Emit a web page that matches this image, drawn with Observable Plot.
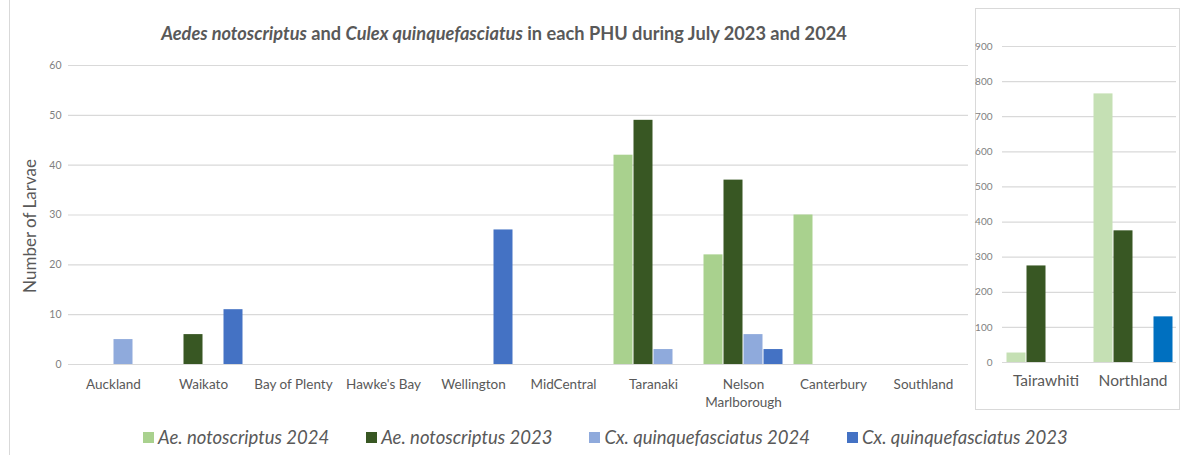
<!DOCTYPE html>
<html>
<head>
<meta charset="utf-8">
<script src="https://cdn.jsdelivr.net/npm/d3@7"></script>
<script src="https://cdn.jsdelivr.net/npm/@observablehq/plot@0.6"></script>
<style>
  html, body { margin: 0; padding: 0; background: #fff; }
  #root { position: relative; width: 1191px; height: 455px; overflow: hidden; font-family: Lato, "Open Sans", sans-serif; }
  #frame { position: absolute; left: 9px; top: 0; width: 0; height: 455px; border-left: 1px solid #d9d9d9; }
  #title { position: absolute; left: 504px; top: 22px; transform: translateX(-50%); white-space: nowrap;
           font-size: 18.2px; font-weight: bold; color: #595959; }
  #ylabel { position: absolute; left: 29px; top: 226px; transform: translate(-50%, -50%) rotate(-90deg);
            white-space: nowrap; font-size: 17px; color: #595959; }
  #left { position: absolute; left: 0; top: 0; }
  #rightbox { position: absolute; left: 975px; top: 8px; width: 205px; height: 402px; box-sizing: border-box;
              border: 1px solid #d9d9d9; }
  #right { position: absolute; left: 0; top: 0; }
  #legend { position: absolute; left: 143px; top: 425px; width: 1040px; }
  #legend .lg-swatches { font-family: Lato, sans-serif; font-size: 18.5px; font-style: italic; color: #595959; min-height: 24px; margin: 0; }
  #legend .lg-swatch { margin-right: 37px !important; }
  #legend .lg-swatch svg { margin-right: 4px !important; }
</style>
</head>
<body>
<div id="root">
  <div id="frame"></div>
  <div id="left"></div>
  <div id="title"><i>Aedes notoscriptus</i> and <i>Culex quinquefasciatus</i> in each PHU during July 2023 and 2024</div>
  <div id="ylabel">Number of Larvae</div>
  <div id="rightbox"><div id="right"></div></div>
  <div id="legend"></div>
</div>
<script>
// ---- data ----
const regions = ["Auckland", "Waikato", "Bay of Plenty", "Hawke's Bay", "Wellington", "MidCentral", "Taranaki", "Nelson Marlborough", "Canterbury", "Southland"];
const series = ["Ae. notoscriptus 2024", "Ae. notoscriptus 2023", "Cx. quinquefasciatus 2024", "Cx. quinquefasciatus 2023"];
const aeNoto2024 = [0, 0, 0, 0, 0, 0, 42, 22, 30, 0];
const aeNoto2023 = [0, 6, 0, 0, 0, 0, 49, 37, 0, 0];
const cxQuinq2024 = [5, 0, 0, 0, 0, 0, 3, 6, 0, 0];
const cxQuinq2023 = [0, 11, 0, 0, 27, 0, 0, 3, 0, 0];
const leftTicks = [0, 10, 20, 30, 40, 50, 60];

const rightRegions = ["Tairawhiti", "Northland"];
const rAeNoto2024 = [27, 765];
const rAeNoto2023 = [275, 375];
const rCxQuinq2024 = [0, 0];
const rCxQuinq2023 = [0, 130];
const rightTicks = [0, 100, 200, 300, 400, 500, 600, 700, 800, 900];

const leftColors = ["#a9d18e", "#385723", "#8faadc", "#4472c4"];
const rightColors = ["#c5e0b4", "#385723", "#8faadc", "#0070c0"];

function toRows(cats, arrays) {
  const rows = [];
  cats.forEach((c, i) => arrays.forEach((arr, j) => rows.push({region: c, series: series[j], value: arr[i]})));
  return rows;
}
const leftData = toRows(regions, [aeNoto2024, aeNoto2023, cxQuinq2024, cxQuinq2023]);
const rightData = toRows(rightRegions, [rAeNoto2024, rAeNoto2023, rCxQuinq2024, rCxQuinq2023]);

// ---- left chart ----
const left = Plot.plot({
  width: 968, height: 420,
  marginLeft: 68, marginRight: 0, marginTop: 65, marginBottom: 56,
  style: {fontFamily: "Lato, sans-serif", background: "transparent", overflow: "visible"},
  fx: {domain: regions, padding: 0, label: null},
  x: {domain: series, paddingInner: 0, paddingOuter: 0.143, axis: null},
  y: {domain: [0, 60], label: null},
  color: {domain: series, range: leftColors},
  marks: [
    Plot.gridY(leftTicks, {stroke: "#d9d9d9", strokeOpacity: 1, strokeWidth: 1.2}),
    Plot.axisY(leftTicks, {tickSize: 0, tickPadding: 7, fontSize: 10.5, color: "#7f7f7f", label: null}),
    Plot.axisFx({anchor: "bottom", tickSize: 0, tickPadding: 12, fontSize: 13.5, color: "#595959", label: null, lineHeight: 1.3,
      tickFormat: d => d === "Nelson Marlborough" ? "Nelson\nMarlborough" : d}),
    Plot.barY(leftData, {fx: "region", x: "series", y: "value", fill: "series", insetLeft: 0.5, insetRight: 0.5})
  ]
});
document.getElementById("left").appendChild(left);

// ---- right chart ----
const right = Plot.plot({
  width: 203, height: 400,
  marginLeft: 26, marginRight: 3, marginTop: 37, marginBottom: 47,
  style: {fontFamily: "Lato, sans-serif", background: "transparent", overflow: "visible"},
  fx: {domain: rightRegions, padding: 0, label: null},
  x: {domain: series, paddingInner: 0, paddingOuter: 0.175, axis: null},
  y: {domain: [0, 900], label: null},
  color: {domain: series, range: rightColors},
  marks: [
    Plot.gridY(rightTicks, {stroke: "#d9d9d9", strokeOpacity: 1, strokeWidth: 1.2}),
    Plot.axisY(rightTicks, {tickSize: 0, tickPadding: 10, fontSize: 10, color: "#7f7f7f", label: null}),
    Plot.axisFx({anchor: "bottom", tickSize: 0, tickPadding: 12, fontSize: 15.5, color: "#595959", label: null}),
    Plot.barY(rightData, {fx: "region", x: "series", y: "value", fill: "series", insetLeft: 0.5, insetRight: 0.5})
  ]
});
document.getElementById("right").appendChild(right);

// ---- legend ----
const legend = Plot.legend({
  color: {domain: series, range: leftColors},
  swatchSize: 11,
  className: "lg"
});
document.getElementById("legend").appendChild(legend);
</script>
</body>
</html>
